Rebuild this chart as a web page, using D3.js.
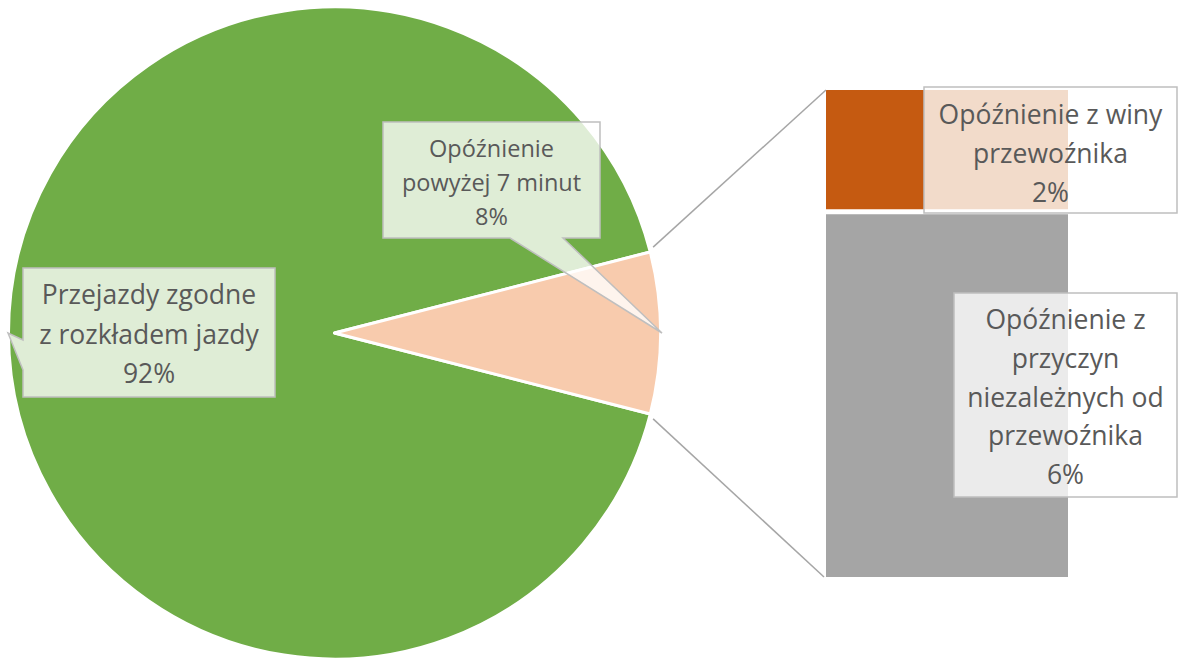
<!DOCTYPE html>
<html>
<head>
<meta charset="utf-8">
<script src="https://cdn.jsdelivr.net/npm/d3@7"></script>
<style>
  body { margin: 0; background: #fff; }
  svg { display: block; }
  .lbl { font-family: "Open Sans", sans-serif; fill: #595959; text-anchor: middle; }
</style>
</head>
<body>
<svg id="chart"></svg>
<script>
// pie: main split
var pieCategories = ["Przejazdy zgodne z rozkładem jazdy", "Opóźnienie powyżej 7 minut"];
var pieValues = [92, 8];
var pieLabelLines = [["Przejazdy zgodne", "z rozkładem jazdy"], ["Opóźnienie", "powyżej 7 minut"]];

// bar: breakdown of the 8% slice
var barCategories = ["Opóźnienie z winy przewoźnika", "Opóźnienie z przyczyn niezależnych od przewoźnika"];
var barValues = [2, 6];
var barLabelLines = [["Opóźnienie z winy", "przewoźnika"], ["Opóźnienie z", "przyczyn", "niezależnych od", "przewoźnika"]];

var pieColors = ["#70AD47", "#F8CBAD"];
var barColors = ["#C55A11", "#A5A5A5"];

var width = 1179, height = 658;
var svg = d3.select("#chart").attr("width", width).attr("height", height);

var cx = 334.5, cy = 333, radius = 326;
var total = d3.sum(pieValues);
var smallAngle = pieValues[1] / total * 2 * Math.PI;

var pie = d3.pie().sort(null)
  .startAngle(Math.PI / 2 + smallAngle / 2)
  .endAngle(Math.PI / 2 + smallAngle / 2 + 2 * Math.PI);
var arcs = pie(pieValues);
var arc = d3.arc().innerRadius(0).outerRadius(radius);

var g = svg.append("g").attr("transform", "translate(" + cx + "," + cy + ")");
g.selectAll("path")
  .data(arcs)
  .enter()
  .append("path")
    .attr("d", arc)
    .attr("fill", (d, i) => pieColors[i])
    .attr("stroke", "#fff")
    .attr("stroke-width", 3)
    .attr("stroke-linejoin", "round");

// bar of pie
var barX = d3.scaleBand().domain(["bar"]).range([826, 1068]).padding(0);
var barY = d3.scaleLinear().domain([0, d3.sum(barValues)]).range([577, 90]);
var stacked = [];
var acc = d3.sum(barValues);
barValues.forEach(function(v, i) {
  stacked.push({ top: acc, bottom: acc - v, i: i });
  acc -= v;
});
svg.selectAll("rect.bar")
  .data(stacked)
  .enter()
  .append("rect")
    .attr("class", "bar")
    .attr("x", barX("bar"))
    .attr("width", barX.bandwidth())
    .attr("y", d => barY(d.top) + (d.i > 0 ? 2.5 : 0))
    .attr("height", d => barY(d.bottom) - barY(d.top) - (d.i > 0 ? 2.5 : 0) - (d.i < barValues.length - 1 ? 2.5 : 0))
    .attr("fill", d => barColors[d.i]);

// connector lines
function edgePoint(a, r) {
  return [cx + r * Math.sin(a), cy - r * Math.cos(a)];
}
var smallArc = arcs[1];
var p1 = edgePoint(smallArc.startAngle - 0.012, radius + 4);
var p2 = edgePoint(smallArc.endAngle + 0.012, radius + 4);
svg.append("line")
  .attr("x1", p1[0]).attr("y1", p1[1])
  .attr("x2", barX("bar")).attr("y2", barY(d3.sum(barValues)))
  .attr("stroke", "#A6A6A6").attr("stroke-width", 1.5);
svg.append("line")
  .attr("x1", p2[0]).attr("y1", p2[1])
  .attr("x2", barX("bar") - 2).attr("y2", barY(0))
  .attr("stroke", "#A6A6A6").attr("stroke-width", 1.5);

// callout labels
function pct(v) { return Math.round(v / total * 100) + "%"; }

var callouts = [
  { box: [23, 268, 275, 397], tail: [[23, 370], [8, 333], [23, 340]], side: "left",
    lines: pieLabelLines[0].concat(pct(pieValues[0])), size: 26.5, first: 304, step: 39.5 },
  { box: [383, 122, 600, 238], tail: [[510, 238], [662, 333], [563, 238]], side: "bottom",
    lines: pieLabelLines[1].concat(pct(pieValues[1])), size: 23.5, first: 157, step: 34 },
  { box: [924, 87, 1177, 213], tail: null,
    lines: barLabelLines[0].concat(pct(barValues[0])), size: 26.5, first: 124, step: 39 },
  { box: [954, 293, 1177, 497], tail: null,
    lines: barLabelLines[1].concat(pct(barValues[1])), size: 26.5, first: 329, step: 38.8 }
];

function calloutPath(c) {
  var x0 = c.box[0], y0 = c.box[1], x1 = c.box[2], y1 = c.box[3];
  var p = d3.path();
  if (c.side === "left") {
    p.moveTo(x0, y0); p.lineTo(x1, y0); p.lineTo(x1, y1); p.lineTo(x0, y1);
    c.tail.forEach(t => p.lineTo(t[0], t[1]));
    p.closePath();
  } else if (c.side === "bottom") {
    p.moveTo(x0, y0); p.lineTo(x1, y0); p.lineTo(x1, y1);
    c.tail.slice().reverse().forEach(t => p.lineTo(t[0], t[1]));
    p.lineTo(x0, y1);
    p.closePath();
  } else {
    p.rect(x0, y0, x1 - x0, y1 - y0);
  }
  return p.toString();
}

var cg = svg.selectAll("g.callout")
  .data(callouts)
  .enter()
  .append("g")
    .attr("class", "callout");

cg.append("path")
  .attr("d", calloutPath)
  .attr("fill", "#fff")
  .attr("fill-opacity", 0.78)
  .attr("stroke", "#BFBFBF")
  .attr("stroke-width", 1.5)
  .attr("stroke-linejoin", "miter");

cg.each(function(c) {
  var gx = d3.select(this);
  var mid = (c.box[0] + c.box[2]) / 2;
  gx.selectAll("text")
    .data(c.lines)
    .enter()
    .append("text")
      .attr("class", "lbl")
      .attr("x", mid)
      .attr("y", (d, i) => c.first + i * c.step)
      .style("font-size", c.size + "px")
      .text(d => d);
});
</script>
</body>
</html>
